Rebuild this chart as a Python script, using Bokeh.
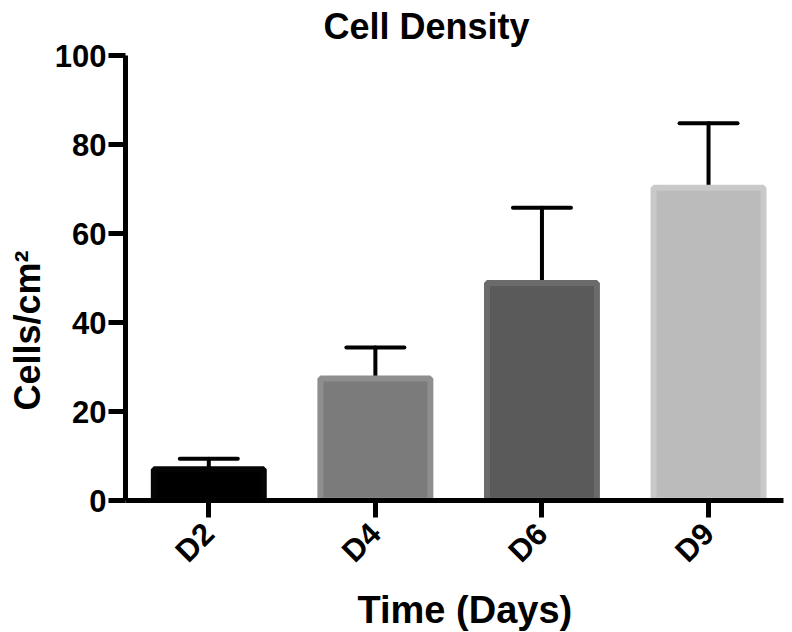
import math
from bokeh.plotting import figure
from bokeh.models import Range1d, FixedTicker, Whisker, TeeHead, ColumnDataSource, Title, Label
from bokeh.embed import file_html
from bokeh.resources import INLINE

# ---- data ----
categories = ["D2", "D4", "D6", "D9"]
means = [7.0, 27.4, 48.9, 70.3]
errors = [2.4, 7.0, 16.9, 14.5]
fill_colors = ["#000000", "#7b7b7b", "#5a5a5a", "#bbbbbb"]
line_colors = ["#050505", "#8e8e8e", "#6b6b6b", "#c9c9c9"]
y_ticks = [0, 20, 40, 60, 80, 100]
title_text = "Cell Density"
x_title = "Time (Days)"
y_title = "Cells/cm\u00b2"

xs = list(range(1, len(categories) + 1))
upper = [m + e for m, e in zip(means, errors)]
src = ColumnDataSource(dict(x=xs, cat=categories, top=means, upper=upper,
                            fill=fill_colors, line=line_colors))

FONT = "Liberation Sans"

# frame extends to the top of the canvas; the y axis itself is bounded to 0..100
p = figure(frame_width=658, frame_height=500, title=None,
           x_range=Range1d(0.5, 4.45), y_range=Range1d(0, 112.36),
           output_backend="svg", toolbar_location=None,
           min_border_left=125, min_border_right=1, min_border_top=0,
           min_border_bottom=120)

p.vbar(x="x", top="top", bottom=0, width=0.66, source=src,
       fill_color="fill", line_color="line", line_width=6)

w = Whisker(base="x", lower="top", upper="upper", source=src,
            line_width=4, line_color="black", line_cap="round",
            upper_head=TeeHead(size=58, line_width=4, line_color="black", line_cap="round"),
            lower_head=None)
p.add_layout(w)

# chart title, drawn in the empty band above the y axis
p.add_layout(Label(x=1.688, y=106.5, text=title_text,
                   text_font=FONT, text_font_style="bold", text_font_size="36px",
                   text_color="black", text_align="left", text_baseline="alphabetic"))

# axes
for ax in (p.xaxis[0], p.yaxis[0]):
    ax.axis_line_width = 5
    ax.axis_line_color = "black"
    ax.major_tick_line_width = 5
    ax.major_tick_line_color = "black"
    ax.major_tick_in = 0
    ax.major_tick_out = 17
    ax.minor_tick_line_color = None
    ax.major_label_text_font = FONT
    ax.major_label_text_font_style = "bold"
    ax.major_label_text_font_size = "31px"
    ax.major_label_text_color = "black"

p.yaxis.ticker = FixedTicker(ticks=y_ticks)
p.yaxis.bounds = (0, 100)
p.yaxis.major_label_standoff = 2

p.xaxis.ticker = FixedTicker(ticks=xs)
p.xaxis.major_label_overrides = {x: c for x, c in zip(xs, categories)}
p.xaxis.major_label_orientation = math.pi / 4
p.xaxis.major_label_standoff = 11

# axis titles as side titles so they can be shifted along their axes
xtitle = Title(text=x_title, align="left", offset=232, standoff=4,
               text_font=FONT, text_font_style="bold", text_font_size="38px",
               text_color="black")
p.add_layout(xtitle, "below")

ytitle = Title(text=y_title, align="left", offset=90, standoff=8,
               text_font=FONT, text_font_style="bold", text_font_size="36px",
               text_color="black")
p.add_layout(ytitle, "left")

p.xgrid.grid_line_color = None
p.ygrid.grid_line_color = None
p.outline_line_color = None
p.background_fill_color = "white"
p.border_fill_color = "white"

open("out.html", "w").write(file_html(p, INLINE))
